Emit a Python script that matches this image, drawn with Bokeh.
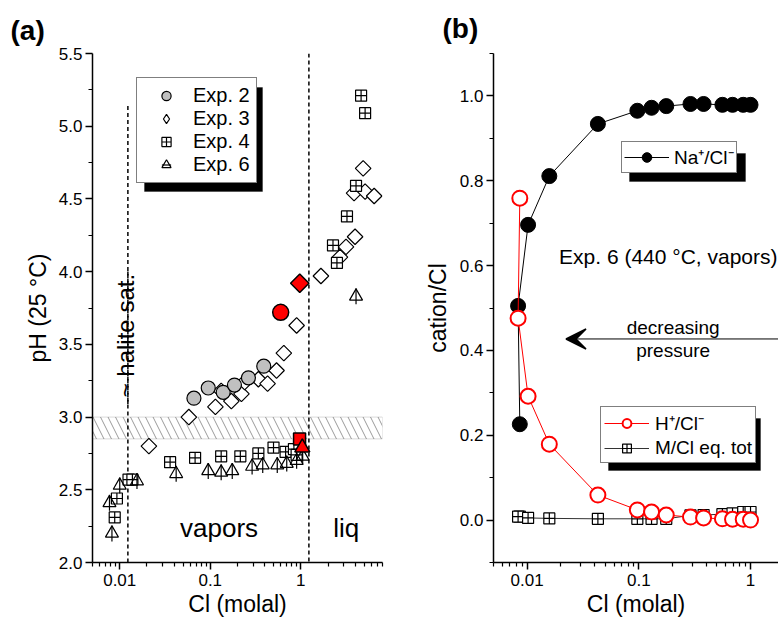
import math
from bokeh.plotting import figure
from bokeh.models import (Range1d, FixedTicker, CustomJSTickFormatter, Legend, LegendItem,
                          BoxAnnotation, Span, Label, Arrow, VeeHead)
from bokeh.layouts import row
from bokeh.embed import file_html
from bokeh.resources import INLINE

FONT = "Liberation Sans"

# ---------------- panel (a) data ----------------
exp2_cl = [0.066, 0.095, 0.139, 0.185, 0.264, 0.39]
exp2_ph = [3.13, 3.20, 3.17, 3.22, 3.27, 3.35]
exp2_hl_cl = [0.60]
exp2_hl_ph = [3.72]

exp3_cl = [0.021, 0.058, 0.114, 0.132, 0.171, 0.221, 0.24, 0.34, 0.43, 0.54, 0.65, 0.90,
           1.67, 2.71, 3.16, 3.98, 3.88, 4.89, 5.14, 6.47]
exp3_ph = [2.80, 3.00, 3.07, 3.18, 3.11, 3.16, 3.24, 3.26, 3.23, 3.32, 3.44, 3.63,
           3.97, 4.10, 4.17, 4.24, 4.54, 4.71, 4.55, 4.52]
exp3_hl_cl = [0.975]
exp3_hl_ph = [3.92]

exp4_cl = [0.0088, 0.0093, 0.0125, 0.0138, 0.036, 0.068, 0.132, 0.215, 0.34, 0.50, 0.68, 0.84, 0.90,
           2.27, 2.51, 3.24, 4.08, 4.64, 5.14]
exp4_ph = [2.31, 2.44, 2.57, 2.57, 2.69, 2.72, 2.73, 2.73, 2.75, 2.79, 2.76, 2.78, 2.74,
           4.18, 4.06, 4.38, 4.59, 5.21, 5.09]
exp4_hl_cl = [0.97]
exp4_hl_ph = [2.85]

exp6_cl = [0.0082, 0.0077, 0.0100, 0.0155, 0.042, 0.095, 0.132, 0.175, 0.29, 0.38, 0.55, 0.70,
           0.90, 1.05, 4.08]
exp6_ph = [2.20, 2.41, 2.53, 2.56, 2.61, 2.63, 2.62, 2.63, 2.66, 2.67, 2.67, 2.68,
           2.70, 2.73, 3.83]
exp6_hl_cl = [1.04]
exp6_hl_ph = [2.79]

band_ph = [2.85, 3.00]            # hatched pH band
halite_cl = 0.0123                # ~ halite saturation
halite_seg_lo = [2.0, 3.09]
halite_seg_hi = [4.02, 5.14]
liq_cl = 1.23                     # vapor / liquid boundary

# ---------------- panel (b) data ----------------
b_cl = [0.0086, 0.0083, 0.0102, 0.0158, 0.043, 0.097, 0.13, 0.176, 0.29, 0.38, 0.56, 0.69, 0.86, 1.0]
na_ratio = [0.226, 0.505, 0.696, 0.811, 0.934, 0.965, 0.972, 0.976, 0.981, 0.981, 0.979, 0.979, 0.979, 0.979]
h_ratio = [0.759, 0.476, 0.292, 0.179, 0.059, 0.024, 0.019, 0.012, 0.007, 0.005, 0.003, 0.002, 0.002, 0.0]
m_ratio = [0.008, 0.008, 0.005, 0.004, 0.003, 0.003, 0.003, 0.003, 0.011, 0.012, 0.014, 0.016, 0.019, 0.019]

x_major = [0.01, 0.1, 1]
ph_ticks = [2.0, 2.5, 3.0, 3.5, 4.0, 4.5, 5.0, 5.5]
ph_minor = [2.25, 2.75, 3.25, 3.75, 4.25, 4.75, 5.25]
ratio_ticks = [0.0, 0.2, 0.4, 0.6, 0.8, 1.0]
ratio_minor = [-0.1, 0.1, 0.3, 0.5, 0.7, 0.9, 1.1]


def log_minor(lo, hi):
    out = []
    for e in range(-3, 2):
        for k in range(2, 10):
            v = k * 10 ** e
            if lo * 0.999 <= v <= hi * 1.001:
                out.append(round(v, 6))
    return out


def style_axes(p, xlo, xhi, yt, ym, ylabel):
    p.xgrid.visible = False
    p.ygrid.visible = False
    p.outline_line_color = None
    p.background_fill_color = "white"
    p.border_fill_color = "white"
    p.xaxis.ticker = FixedTicker(ticks=x_major, minor_ticks=log_minor(xlo, xhi))
    p.xaxis.formatter = CustomJSTickFormatter(code="return tick.toString();")
    p.yaxis.ticker = FixedTicker(ticks=yt, minor_ticks=ym)
    p.yaxis.formatter = CustomJSTickFormatter(code="return tick.toFixed(1);")
    p.xaxis.axis_label = "Cl (molal)"
    p.yaxis.axis_label = ylabel
    for ax in (p.xaxis[0], p.yaxis[0]):
        ax.axis_line_width = 1.5
        ax.axis_line_color = "black"
        ax.major_tick_line_width = 1.5
        ax.minor_tick_line_width = 1.2
        ax.major_tick_out = 7
        ax.major_tick_in = 0
        ax.minor_tick_out = 4
        ax.minor_tick_in = 0
        ax.major_tick_line_color = "black"
        ax.minor_tick_line_color = "black"
        ax.major_label_text_font = FONT
        ax.major_label_text_font_size = "17px"
        ax.major_label_text_color = "black"
        ax.axis_label_text_font = FONT
        ax.axis_label_text_font_size = "23px"
        ax.axis_label_text_font_style = "normal"
        ax.axis_label_text_color = "black"
    p.xaxis.major_label_standoff = 4
    p.xaxis.axis_label_standoff = 2
    p.yaxis.major_label_standoff = 3


def style_title(p, txt, offset, standoff):
    p.title.text = txt
    p.title.text_font = FONT
    p.title.text_font_size = "28px"
    p.title.text_font_style = "bold"
    p.title.text_color = "black"
    p.title.align = "left"
    p.title.offset = offset
    p.title.standoff = standoff


def make_legend(items, loc, pad, spacing, gw, gh, standoff, fsize):
    return Legend(items=items, location=loc, padding=pad, spacing=spacing, margin=0,
                  glyph_width=gw, glyph_height=gh, label_height=gh, label_standoff=standoff,
                  label_text_font=FONT, label_text_font_size=fsize, label_text_color="black",
                  border_line_color="black", border_line_width=1,
                  background_fill_color="white", background_fill_alpha=1)


def shadow(left, right, bottom, top):
    return BoxAnnotation(left=left, right=right, bottom=bottom, top=top,
                         left_units="screen", right_units="screen",
                         bottom_units="screen", top_units="screen",
                         fill_color="black", fill_alpha=1, line_color="black")


# ================= panel (a) =================
p1 = figure(width=400, height=630, x_axis_type="log",
            x_range=Range1d(0.005, 8.0), y_range=Range1d(2.0, 5.5),
            output_backend="svg", toolbar_location=None,
            min_border_left=92, min_border_right=18, min_border_top=48, min_border_bottom=68)
style_axes(p1, 0.005, 8.0, ph_ticks, ph_minor, "pH (25 °C)")
p1.yaxis.axis_label_standoff = 5
style_title(p1, "(a)", -82, 15)

band = BoxAnnotation(bottom=band_ph[0], top=band_ph[1], fill_color=None, fill_alpha=0,
                     line_color="#808080", line_width=1, hatch_pattern="left_diagonal_line",
                     hatch_color="#808080", hatch_scale=15, hatch_weight=0.8, level="underlay")
p1.add_layout(band)

p1.segment(x0=[halite_cl, halite_cl], y0=halite_seg_lo, x1=[halite_cl, halite_cl], y1=halite_seg_hi,
           line_color="black", line_width=1.5, line_dash="4 3")
p1.add_layout(Span(location=liq_cl, dimension="height", line_color="black",
                   line_width=1.5, line_dash="4 3"))

# diamond glyph (hidden under the rotated squares) gives the legend its diamond symbol
r3_leg = p1.scatter(exp3_cl, exp3_ph, marker="diamond", size=14,
                    fill_color="white", line_color="black", line_width=1.2)
r3 = p1.scatter(exp3_cl, exp3_ph, marker="square", angle=math.pi / 4, size=11,
                fill_color="white", line_color="black", line_width=1.2)
r2 = p1.scatter(exp2_cl, exp2_ph, marker="circle", size=14,
                fill_color="#c0c0c0", line_color="black", line_width=1.2)
r4 = p1.scatter(exp4_cl, exp4_ph, marker="square_cross", size=11,
                fill_color="white", line_color="black", line_width=1.2)
r6d = p1.scatter(exp6_cl, exp6_ph, marker="dash", angle=math.pi / 2, size=16,
                 line_color="black", line_width=1.2)
r6 = p1.scatter(exp6_cl, exp6_ph, marker="triangle", size=13,
                fill_color="white", fill_alpha=0, line_color="black", line_width=1.2)

p1.scatter(exp2_hl_cl, exp2_hl_ph, marker="circle", size=16, fill_color="red",
           line_color="black", line_width=1.5)
p1.scatter(exp3_hl_cl, exp3_hl_ph, marker="square", angle=math.pi / 4, size=13,
           fill_color="red", line_color="black", line_width=1.5)
p1.scatter(exp4_hl_cl, exp4_hl_ph, marker="square", size=12, fill_color="red",
           line_color="black", line_width=1.5)
p1.scatter(exp6_hl_cl, exp6_hl_ph, marker="triangle", size=15, fill_color="red",
           line_color="black", line_width=1.5)

for txt, xx, yy, sz, ang in [("vapors", 0.125, 2.24, "26px", 0.0),
                              ("liq", 3.18, 2.24, "26px", 0.0),
                              ("~ halite sat.", 0.0117, 3.56, "24px", math.pi / 2)]:
    p1.add_layout(Label(x=xx, y=yy, text=txt, text_font=FONT, text_font_size=sz,
                        text_align="center", text_baseline="middle", angle=ang,
                        text_color="black"))

p1.add_layout(shadow(52, 170, 371, 475))
p1.add_layout(make_legend([LegendItem(label="Exp. 2", renderers=[r2]),
                           LegendItem(label="Exp. 3", renderers=[r3_leg]),
                           LegendItem(label="Exp. 4", renderers=[r4]),
                           LegendItem(label="Exp. 6", renderers=[r6d, r6])],
                          (44, 379), 6, 0, 46, 23, 4, "20px"))

# ================= panel (b) =================
p2 = figure(width=378, height=630, x_axis_type="log",
            x_range=Range1d(0.005, 1.78), y_range=Range1d(-0.1, 1.1),
            output_backend="svg", toolbar_location=None,
            min_border_left=93, min_border_right=0, min_border_top=53, min_border_bottom=68)
style_axes(p2, 0.005, 1.78, ratio_ticks, ratio_minor, "cation/Cl")
p2.yaxis.axis_label_standoff = 6
style_title(p2, "(b)", -51, 20)

ml = p2.line(b_cl, m_ratio, line_color="#333333", line_width=1)
ms = p2.scatter(b_cl, m_ratio, marker="square_cross", size=11, fill_color="white",
                line_color="black", line_width=1.2)
nl = p2.line(b_cl, na_ratio, line_color="black", line_width=1)
ns = p2.scatter(b_cl, na_ratio, marker="circle", size=15, fill_color="black", line_color="black")
hl = p2.line(b_cl, h_ratio, line_color="red", line_width=1)
hs = p2.scatter(b_cl, h_ratio, marker="circle", size=15, fill_color="white",
                line_color="red", line_width=2)

for txt, xx, yy, al, fs in [("Exp. 6 (440 °C, vapors)", 0.0193, 0.621, "left", "21px"),
                            ("decreasing", 0.203, 0.4535, "center", "19px"),
                            ("pressure", 0.203, 0.400, "center", "19px")]:
    p2.add_layout(Label(x=xx, y=yy, text=txt, text_font=FONT, text_font_size=fs,
                        text_align=al, text_baseline="middle", text_color="black"))
p2.add_layout(Arrow(end=VeeHead(size=20, fill_color="black", line_color="black", line_width=1.5),
                    x_start=1.78, y_start=0.427, x_end=0.0223, y_end=0.427,
                    line_color="black", line_width=1))

p2.add_layout(shadow(136, 252, 381, 409))
p2.add_layout(make_legend([LegendItem(label="Na⁺/Cl⁻", renderers=[nl, ns])],
                          (128, 389), 2, 0, 45, 24, 5, "19px"))

p2.add_layout(shadow(115, 267, 92, 144))
p2.add_layout(make_legend([LegendItem(label="H⁺/Cl⁻", renderers=[hl, hs]),
                           LegendItem(label="M/Cl eq. tot", renderers=[ml, ms])],
                          (107, 99), 3, 1, 45, 22, 6, "19px"))

layout = row(p1, p2)
open("out.html", "w").write(file_html(layout, INLINE))
